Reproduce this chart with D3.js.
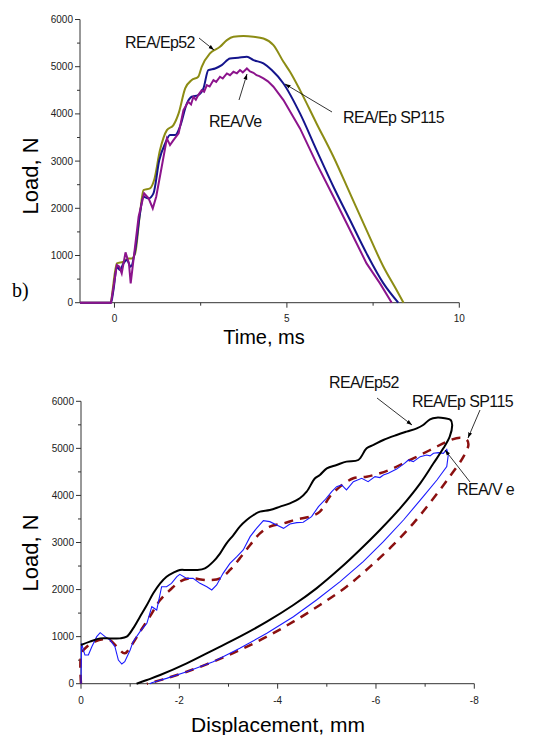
<!DOCTYPE html>
<html><head><meta charset="utf-8">
<script src="https://cdn.jsdelivr.net/npm/d3@7"></script>
<style>body{margin:0;background:#fff}svg{display:block}text{font-family:"Liberation Sans",Arial,sans-serif}</style>
</head><body>
<script>
// ---------- data: top chart (time vs load) ----------
const timeTicks = [0, 5, 10];
const loadTicks = [0, 1000, 2000, 3000, 4000, 5000, 6000];
const ep52Time = [[-1,0],[-0.13,0],[0.07,833],[0.26,868],[0.41,939],[0.5,939],[0.6,1045],[0.74,1900],[0.84,2386],[1.03,2421],[1.15,2598],[1.32,3233],[1.52,3657],[1.71,3763],[1.86,4010],[2.05,4539],[2.24,4716],[2.43,4787],[2.53,4998],[2.77,5281],[3.06,5422],[3.26,5563],[3.45,5634],[3.74,5648],[4.03,5634],[4.32,5598],[4.61,5457],[4.9,5104],[5.09,4892],[5.38,4504],[5.86,3798],[6.35,3092],[6.83,2316],[7.31,1539],[7.8,762],[8.18,268],[8.38,0]];
const sp115Time = [[-1,0],[-0.1,0],[-0.03,268],[0.07,762],[0.16,692],[0.26,833],[0.36,904],[0.47,762],[0.6,1115],[0.74,1892],[0.84,2245],[0.99,2210],[1.13,2316],[1.3,3021],[1.47,3374],[1.61,3551],[1.76,3551],[1.9,3728],[2.1,4222],[2.24,4363],[2.43,4398],[2.58,4539],[2.72,4928],[2.92,4963],[3.11,5034],[3.35,5175],[3.59,5189],[3.84,5210],[4.03,5140],[4.32,5069],[4.56,4928],[4.9,4645],[5.38,4010],[5.86,3233],[6.35,2457],[6.83,1751],[7.31,1045],[7.8,409],[8.23,0]];
const veTime = [[-1,0],[-0.1,0],[0.07,798],[0.14,762],[0.21,621],[0.32,1066],[0.42,833],[0.47,409],[0.55,904],[0.7,1821],[0.86,2316],[0.99,2210],[1.11,1998],[1.21,2245],[1.37,2880],[1.52,3480],[1.61,3339],[1.71,3445],[1.86,3586],[2.0,4080],[2.14,4257],[2.22,4200],[2.29,4363],[2.36,4300],[2.43,4398],[2.53,4504],[2.6,4470],[2.68,4610],[2.76,4580],[2.87,4716],[2.95,4680],[3.06,4787],[3.14,4750],[3.26,4857],[3.35,4820],[3.45,4893],[3.55,4860],[3.64,4928],[3.72,4880],[3.84,4963],[3.93,4900],[4.03,4871],[4.12,4820],[4.2,4800],[4.32,4751],[4.45,4690],[4.61,4575],[4.9,4292],[5.38,3692],[5.86,2951],[6.35,2245],[6.83,1539],[7.31,833],[7.7,409],[8.04,0]];

// ---------- data: bottom chart (displacement vs load) ----------
const dispTicks = [0, -2, -4, -6, -8];
const ep52Disp = [[0,822],[-0.18,893],[-0.39,963],[-0.59,963],[-0.79,963],[-0.93,999],[-1.06,1176],[-1.2,1424],[-1.34,1672],[-1.47,1920],[-1.61,2132],[-1.74,2274],[-1.88,2359],[-2.01,2416],[-2.15,2416],[-2.35,2416],[-2.52,2451],[-2.69,2593],[-2.83,2770],[-2.96,2982],[-3.1,3159],[-3.23,3337],[-3.37,3478],[-3.51,3584],[-3.64,3655],[-3.84,3691],[-4.05,3762],[-4.25,3832],[-4.45,3939],[-4.59,4080],[-4.76,4364],[-4.86,4435],[-5.0,4576],[-5.2,4647],[-5.4,4718],[-5.64,4753],[-5.81,5001],[-5.95,5072],[-6.15,5178],[-6.42,5285],[-6.62,5356],[-6.83,5426],[-6.96,5497],[-7.1,5618],[-7.23,5653],[-7.4,5639],[-7.52,5603],[-7.55,5497],[-7.5,5249],[-7.37,5001],[-7.17,4683],[-6.9,4258],[-6.49,3726],[-6.08,3266],[-5.67,2841],[-5.27,2451],[-4.79,2026],[-4.32,1672],[-3.78,1318],[-3.23,999],[-2.69,715],[-2.15,432],[-1.61,184],[-1.34,78],[-1.13,0]];
const veDisp = [[0,0],[-0.01,857],[-0.08,609],[-0.15,609],[-0.22,786],[-0.32,999],[-0.39,1084],[-0.49,999],[-0.59,928],[-0.69,786],[-0.76,503],[-0.83,418],[-0.89,468],[-1.0,715],[-1.06,893],[-1.2,1105],[-1.34,1282],[-1.44,1636],[-1.54,1566],[-1.64,2061],[-1.74,2061],[-1.84,2132],[-1.95,2274],[-2.01,2324],[-2.15,2238],[-2.28,2238],[-2.42,2132],[-2.56,2061],[-2.66,1991],[-2.76,2097],[-2.89,2345],[-3.03,2557],[-3.17,2699],[-3.3,2841],[-3.44,3124],[-3.57,3301],[-3.71,3464],[-3.84,3443],[-3.98,3372],[-4.12,3301],[-4.25,3393],[-4.39,3422],[-4.52,3429],[-4.69,3549],[-4.83,3762],[-4.96,3903],[-5.1,4080],[-5.2,4187],[-5.3,4222],[-5.4,4116],[-5.54,4293],[-5.71,4364],[-5.84,4293],[-5.98,4399],[-6.08,4380],[-6.15,4435],[-6.25,4470],[-6.32,4506],[-6.42,4560],[-6.49,4612],[-6.58,4680],[-6.66,4753],[-6.76,4718],[-6.9,4824],[-7.03,4859],[-7.1,4840],[-7.17,4895],[-7.27,4909],[-7.37,4895],[-7.44,4980],[-7.47,4859],[-7.44,4612],[-7.24,4328],[-6.96,3974],[-6.56,3478],[-6.15,3018],[-5.74,2593],[-5.27,2168],[-4.79,1778],[-4.32,1424],[-3.78,1070],[-3.23,751],[-2.69,468],[-2.15,255],[-1.74,113],[-1.44,21],[-1.4,0]];
const sp115Disp = [[0,0],[-0.01,645],[-0.12,786],[-0.28,893],[-0.45,942],[-0.59,928],[-0.73,786],[-0.89,645],[-1.03,822],[-1.2,1105],[-1.4,1424],[-1.61,1778],[-1.81,1991],[-2.01,2168],[-2.22,2238],[-2.56,2203],[-2.83,2238],[-3.03,2416],[-3.23,2664],[-3.44,2947],[-3.64,3195],[-3.84,3337],[-4.12,3407],[-4.39,3492],[-4.66,3549],[-4.86,3655],[-5.06,3974],[-5.27,4187],[-5.54,4364],[-5.81,4399],[-6.08,4470],[-6.35,4576],[-6.62,4718],[-6.9,4859],[-7.17,5001],[-7.44,5143],[-7.71,5228],[-7.85,5178],[-7.88,5072],[-7.78,4824],[-7.5,4399],[-7.17,3939],[-6.76,3407],[-6.35,2947],[-5.88,2486],[-5.4,2061],[-4.86,1672],[-4.32,1318],[-3.78,999],[-3.23,715],[-2.69,468],[-2.15,255],[-1.67,92],[-1.34,0]];

const W = 544, H = 735;
const svg = d3.select("body").append("svg").attr("width", W).attr("height", H);
svg.append("defs").append("marker").attr("id","arr").attr("viewBox","0 0 10 10")
  .attr("refX",10).attr("refY",5).attr("markerWidth",7).attr("markerHeight",7).attr("orient","auto")
  .append("path").attr("d","M0,1.5L10,5L0,8.5Z").attr("fill","#000");

function axes(g, x, y, xTicks, xMinor, yMinor, xLabelY) {
  const ax = "#333";
  // y axis
  g.append("line").attr("x1",x.range()[0]).attr("x2",x.range()[0]).attr("y1",y.range()[0]).attr("y2",y.range()[1]).attr("stroke",ax).attr("stroke-width",1);
  g.append("line").attr("x1",x.range()[0]).attr("x2",x.range()[1]).attr("y1",y.range()[0]).attr("y2",y.range()[0]).attr("stroke",ax).attr("stroke-width",1);
  loadTicks.forEach(v => {
    g.append("line").attr("x1",x.range()[0]-5).attr("x2",x.range()[0]).attr("y1",y(v)).attr("y2",y(v)).attr("stroke",ax);
    g.append("text").attr("x",x.range()[0]-7).attr("y",y(v)).attr("dy","0.35em").attr("text-anchor","end").attr("font-size",10).attr("fill","#222").text(v);
  });
  yMinor.forEach(v => g.append("line").attr("x1",x.range()[0]-3).attr("x2",x.range()[0]).attr("y1",y(v)).attr("y2",y(v)).attr("stroke",ax));
  xTicks.forEach(v => {
    g.append("line").attr("x1",x(v)).attr("x2",x(v)).attr("y1",y.range()[0]).attr("y2",y.range()[0]+5).attr("stroke",ax);
    g.append("text").attr("x",x(v)).attr("y",xLabelY).attr("dy","0.35em").attr("text-anchor","middle").attr("font-size",10).attr("fill","#222").text(v);
  });
  xMinor.forEach(v => g.append("line").attr("x1",x(v)).attr("x2",x(v)).attr("y1",y.range()[0]).attr("y2",y.range()[0]+3).attr("stroke",ax));
}
const yMinorVals = [500,1500,2500,3500,4500,5500];

// ---------- top chart ----------
const x1 = d3.scaleLinear().domain([-1, 10]).range([80, 459.3]);
const y1 = d3.scaleLinear().domain([0, 6000]).range([302.7, 19.5]);
const gt = svg.append("g");
axes(gt, x1, y1, timeTicks, [2.5, 7.5], yMinorVals, 318);
const l1 = d3.line().x(d => x1(d[0])).y(d => y1(d[1])).curve(d3.curveMonotoneX);
const l1j = d3.line().x(d => x1(d[0])).y(d => y1(d[1]));
gt.append("path").attr("d", l1(ep52Time)).attr("fill","none").attr("stroke","#8c8c14").attr("stroke-width",2);
gt.append("path").attr("d", l1(sp115Time)).attr("fill","none").attr("stroke","#14148c").attr("stroke-width",2);
gt.append("path").attr("d", l1j(veTime)).attr("fill","none").attr("stroke","#8c148c").attr("stroke-width",2);

gt.append("text").attr("x",137).attr("y",122).attr("text-anchor","middle").attr("transform","rotate(-90,30,176)")
  .attr("font-size",22).text("Load, N").attr("x",30).attr("y",176).attr("dy","0.35em");
gt.append("text").attr("x",264).attr("y",344).attr("text-anchor","middle").attr("font-size",20).text("Time, ms");
gt.append("text").attr("x",12).attr("y",297).attr("font-family","Liberation Serif, serif").attr("font-size",20).style("font-family","'Liberation Serif',serif").text("b)");

function ann(g, tx, ty, label, x0, yy0, x1_, y1_) {
  g.append("text").attr("x",tx).attr("y",ty).attr("font-size",16).attr("letter-spacing","-0.6px").attr("fill","#111").text(label);
  g.append("line").attr("x1",x0).attr("y1",yy0).attr("x2",x1_).attr("y2",y1_).attr("stroke","#000").attr("stroke-width",0.8).attr("marker-end","url(#arr)");
}
ann(gt,125,48,"REA/Ep52",199,38,214,50);
ann(gt,209,127,"REA/Ve",239,100,247,74);
ann(gt,343,123,"REA/Ep SP115",332,112,285,84);

// ---------- bottom chart ----------
const x2 = d3.scaleLinear().domain([0, -8]).range([81, 474.3]);
const y2 = d3.scaleLinear().domain([0, 6000]).range([683.7, 401.3]);
const gb = svg.append("g");
axes(gb, x2, y2, dispTicks, [-1,-3,-5,-7], yMinorVals, 700);
const l2 = d3.line().x(d => x2(d[0])).y(d => y2(d[1])).curve(d3.curveCatmullRom);
const l2j = d3.line().x(d => x2(d[0])).y(d => y2(d[1]));
gb.append("path").attr("d", l2(sp115Disp)).attr("fill","none").attr("stroke","#8b1010").attr("stroke-width",2.5).attr("stroke-dasharray","9,7");
gb.append("path").attr("d", l2j(veDisp)).attr("fill","none").attr("stroke","#1a1aff").attr("stroke-width",1.1);
gb.append("path").attr("d", l2(ep52Disp)).attr("fill","none").attr("stroke","#000").attr("stroke-width",2);

gb.append("text").attr("transform","rotate(-90,30,553)").attr("x",30).attr("y",553).attr("dy","0.35em").attr("text-anchor","middle").attr("font-size",22).text("Load, N");
gb.append("text").attr("x",278).attr("y",732).attr("text-anchor","middle").attr("font-size",21).text("Displacement, mm");
ann(gb,329,388,"REA/Ep52",377,398,412,425);
ann(gb,412,407,"REA/Ep SP115",480,410,468,438);
ann(gb,457,495,"REA/V e",470,482,445,450);
</script>
</body></html>
